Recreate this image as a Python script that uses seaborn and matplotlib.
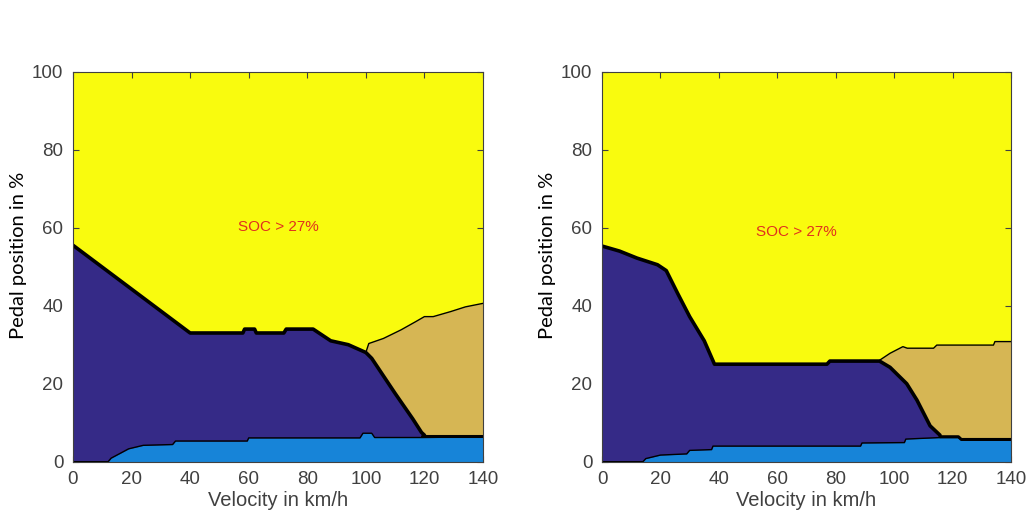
import numpy as np
import pandas as pd
import matplotlib
matplotlib.use("Agg")
import matplotlib.pyplot as plt
import seaborn as sns

# ---------------- data ----------------
# Left panel
L_top_v = [0, 40, 58, 58.6, 62, 62.6, 72, 72.8, 82, 88, 94, 100]
L_top_p = [55.5, 33, 33, 34, 34, 33, 33, 34, 34, 31, 30, 28]
L_steep_v = [100, 102, 110, 116, 119, 120]
L_steep_p = [28, 26.5, 17.5, 11, 7.5, 6.8]
L_tan_v = [100, 101, 106, 112, 117, 120, 123, 129, 134, 140]
L_tan_p = [28, 30.3, 31.6, 33.8, 35.9, 37.2, 37.2, 38.5, 39.7, 40.6]
L_low_v = [0, 12, 13, 16, 19, 24, 34, 35, 59.5, 60, 98, 99, 102, 103, 119, 140]
L_low_p = [0, 0, 0.9, 2.1, 3.3, 4.2, 4.4, 5.3, 5.3, 6.1, 6.1, 7.3, 7.3, 6.2, 6.2, 6.4]
L_tanlow_v = [119, 140]
L_tanlow_p = [6.6, 6.6]

# Right panel
R_top_v = [0, 6, 12, 19, 22, 26, 30, 35, 38.5, 77, 78, 95]
R_top_p = [55.3, 54, 52.2, 50.5, 49, 43, 37.2, 31, 25, 25, 25.8, 25.8]
R_steep_v = [95, 98.6, 104.3, 107.8, 112.3, 115.7]
R_steep_p = [25.8, 24.2, 20, 15.8, 9.2, 6.8]
R_tan_v = [95, 98.6, 103, 104.5, 113.5, 114.6, 134, 134.5, 140]
R_tan_p = [26, 27.8, 29.5, 29.1, 29.1, 29.9, 29.9, 30.8, 30.8]
R_low_v = [0, 10, 14, 15, 20, 29, 30, 37.5, 38, 88.5, 89, 103.5, 104, 116, 122, 123, 140]
R_low_p = [0, 0, 0, 0.8, 1.7, 2.0, 2.9, 3.1, 4.0, 4.0, 4.8, 4.9, 5.8, 6.2, 6.2, 5.6, 5.6]
R_tanlow_v = [115.7, 122, 123, 140]
R_tanlow_p = [6.4, 6.4, 5.7, 5.7]

annotation = "SOC > 27%"
ann_pos = [(70, 60.3), (66.7, 59)]
x_ticks = [0, 20, 40, 60, 80, 100, 120, 140]
y_ticks = [0, 20, 40, 60, 80, 100]
x_label = "Velocity in km/h"
y_label = "Pedal position in %"

# ---------------- style ----------------
C_YELLOW = "#F9FB0E"
C_DARK = "#352A87"
C_TAN = "#D6B654"
C_LIGHT = "#1784D8"
TICK_COLOR = "#404040"

sns.set_theme(style="white")
plt.rcParams["font.family"] = ["Liberation Sans", "DejaVu Sans"]

fig = plt.figure(figsize=(10.28, 5.13), dpi=100)
ax1 = fig.add_axes([73 / 1028, 1 - 461.7 / 513, 410 / 1028, 390 / 513])
ax2 = fig.add_axes([602 / 1028, 1 - 461.7 / 513, 409 / 1028, 390 / 513])


def draw_panel(ax, top_v, top_p, steep_v, steep_p, tan_v, tan_p, low_v, low_p,
               tl_v, tl_p, pos):
    ax.set_facecolor(C_YELLOW)
    # tan region
    ax.fill_between(tan_v + [140], tan_p + [0], 0, color=C_TAN, lw=0, zorder=1)
    # dark blue region
    bv = top_v + steep_v[1:]
    bp = top_p + steep_p[1:]
    ax.fill_between(bv, bp, 0, color=C_DARK, lw=0, zorder=2)
    # light blue region
    ax.fill_between(low_v, low_p, 0, color=C_LIGHT, lw=0, zorder=3)

    def line(v, p, lw):
        df = pd.DataFrame({"v": v, "p": p})
        sns.lineplot(data=df, x="v", y="p", sort=False, estimator=None,
                     color="black", lw=lw, ax=ax, zorder=4)

    line(bv, bp, 2.6)
    line(tan_v, tan_p, 1.0)
    line(low_v, low_p, 1.0)
    line(tl_v, tl_p, 2.2)

    ax.text(pos[0], pos[1], annotation, color="#E0301E", fontsize=11,
            ha="center", va="center", zorder=5)

    ax.set_xlim(0, 140)
    ax.set_ylim(0, 100)
    ax.set_xticks(x_ticks)
    ax.set_yticks(y_ticks)
    ax.tick_params(direction="in", length=4, width=0.8, colors=TICK_COLOR,
                   labelsize=13.5, top=True, right=True, bottom=True, left=True,
                   pad=7)
    for s in ax.spines.values():
        s.set_color("#404040")
        s.set_linewidth(0.8)
        s.set_zorder(6)
    ax.set_xlabel(x_label, fontsize=14.5, color=TICK_COLOR, labelpad=2)
    ax.set_ylabel(y_label, fontsize=14.5, color="black",
                  family=["Lato", "DejaVu Sans"])
    ax.yaxis.set_label_coords(-0.112, 0.53)


draw_panel(ax1, L_top_v, L_top_p, L_steep_v, L_steep_p, L_tan_v, L_tan_p,
           L_low_v, L_low_p, L_tanlow_v, L_tanlow_p, ann_pos[0])
draw_panel(ax2, R_top_v, R_top_p, R_steep_v, R_steep_p, R_tan_v, R_tan_p,
           R_low_v, R_low_p, R_tanlow_v, R_tanlow_p, ann_pos[1])

fig.savefig("out.png", dpi=100)
